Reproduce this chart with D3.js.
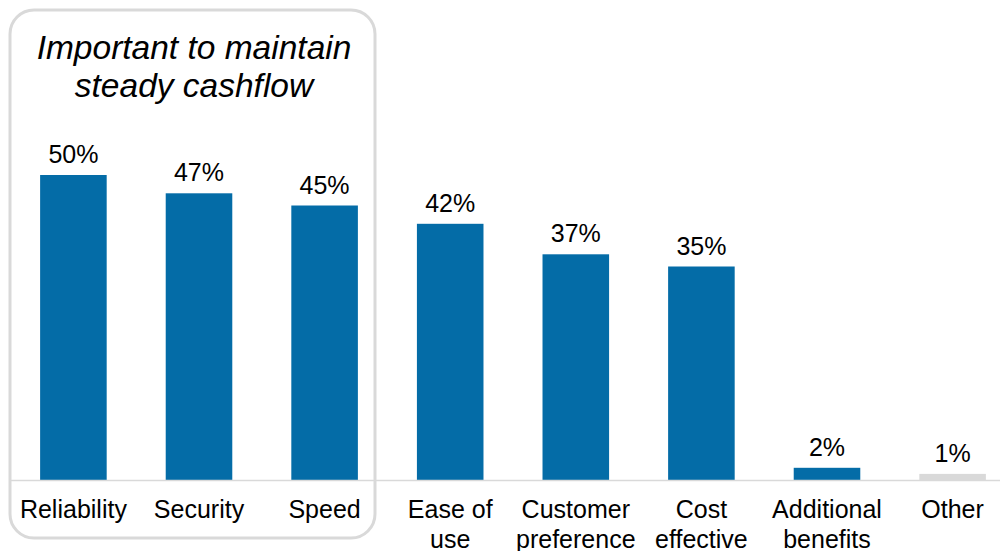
<!DOCTYPE html>
<html><head><meta charset="utf-8">
<script src="https://cdn.jsdelivr.net/npm/d3@7"></script>
<style>body{margin:0;background:#fff}svg{display:block;font-family:"Liberation Sans",Arial,sans-serif}</style>
</head><body><svg id="c" width="1000" height="551"></svg>
<script>
const categories = ["Reliability","Security","Speed","Ease of use","Customer preference","Cost effective","Additional benefits","Other"];
const categoryLines = [["Reliability"],["Security"],["Speed"],["Ease of","use"],["Customer","preference"],["Cost","effective"],["Additional","benefits"],["Other"]];
const values = [50,47,45,42,37,35,2,1];
const valueLabels = ["50%","47%","45%","42%","37%","35%","2%","1%"];
const titleLines = ["Important to maintain","steady cashflow"];

const svg = d3.select("#c");
const baseY = 480;
const x = d3.scaleBand().domain(categories).range([10.6,1015.4]).paddingInner(0.47).paddingOuter(0.235);
const y = d3.scaleLinear().domain([0,50]).range([baseY,175]);

// highlight box
svg.append("rect").attr("x",10).attr("y",10).attr("width",365).attr("height",528)
  .attr("rx",24).attr("fill","none").attr("stroke","#d9d9d9").attr("stroke-width",3);

svg.append("g").selectAll("text").data(titleLines).join("text")
  .attr("x",194).attr("y",(d,i)=>59+i*38).attr("text-anchor","middle")
  .attr("font-size",33.5).attr("font-style","italic").attr("fill","#000").text(d=>d);

svg.append("g").selectAll("rect").data(values).join("rect")
  .attr("x",(d,i)=>x(categories[i])).attr("width",x.bandwidth())
  .attr("y",d=>y(d)).attr("height",d=>baseY-y(d))
  .attr("fill",(d,i)=>categories[i]==="Other"?"#d9d9d9":"#046ca7");

svg.append("line").attr("x1",10).attr("x2",1000).attr("y1",baseY+0.5).attr("y2",baseY+0.5)
  .attr("stroke","#d9d9d9").attr("stroke-width",1.5);

svg.append("g").selectAll("text").data(values).join("text")
  .attr("x",(d,i)=>x(categories[i])+x.bandwidth()/2).attr("y",d=>y(d)-12)
  .attr("text-anchor","middle").attr("font-size",25).attr("fill","#000")
  .text((d,i)=>valueLabels[i]);

const lab = svg.append("g").selectAll("text").data(categoryLines).join("text")
  .attr("x",(d,i)=>x(categories[i])+x.bandwidth()/2).attr("y",518)
  .attr("text-anchor","middle").attr("font-size",25).attr("fill","#000");
lab.selectAll("tspan").data(d=>d).join("tspan")
  .attr("x",function(){return this.parentNode.getAttribute("x");})
  .attr("dy",(d,i)=>i===0?0:30).text(d=>d);
</script></body></html>
